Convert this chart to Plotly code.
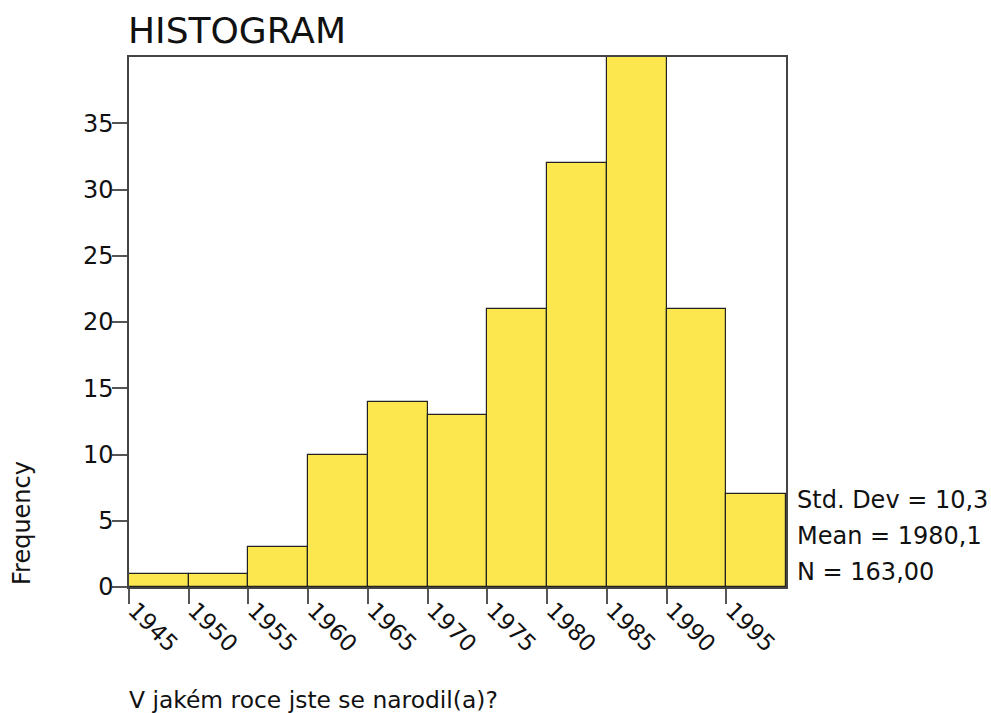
import plotly.graph_objects as go

bin_starts = [1945, 1950, 1955, 1960, 1965, 1970, 1975, 1980, 1985, 1990, 1995]
counts = [1, 1, 3, 10, 14, 13, 21, 32, 40, 21, 7]
bin_width = 5
tick_labels = ["1945", "1950", "1955", "1960", "1965", "1970", "1975", "1980", "1985", "1990", "1995"]
y_ticks = [0, 5, 10, 15, 20, 25, 30, 35]
stats_lines = ["Std. Dev = 10,3", "Mean = 1980,1", "N = 163,00"]
title_text = "HISTOGRAM"
x_title = "V jakém roce jste se narodil(a)?"
y_title = "Frequency"

FONT = "DejaVu Sans"
centers = [s + bin_width / 2 for s in bin_starts]

fig = go.Figure(go.Bar(
    x=centers, y=counts, width=bin_width,
    marker=dict(color="#FCE74F", line=dict(color="#222222", width=1.2)),
    hoverinfo="x+y",
))

fig.update_layout(
    width=991, height=713,
    margin=dict(l=129, r=205, t=57, b=126),
    paper_bgcolor="white", plot_bgcolor="white",
    font=dict(family=FONT, size=24, color="#111111"),
    showlegend=False,
    bargap=0,
)
fig.update_xaxes(
    range=[1945, 2000], tickvals=bin_starts, ticktext=tick_labels,
    tickangle=45, ticks="outside", ticklen=15, tickcolor="#555555", tickwidth=1.5,
    showline=True, linecolor="#444444", linewidth=1.5, mirror=True,
    showgrid=False, zeroline=False, tickfont=dict(size=23), automargin=False,
    ticklabelshift=6, ticklabelstandoff=-16,
)
fig.update_yaxes(
    range=[0, 40], tickvals=y_ticks, ticks="outside", ticklen=15,
    tickcolor="#555555", tickwidth=1.5,
    showline=True, linecolor="#444444", linewidth=1.5, mirror=True,
    showgrid=False, zeroline=False, tickfont=dict(size=24), automargin=False,
    ticklabelstandoff=-6,
)

annotations = [
    dict(text=title_text, xref="paper", yref="paper", x=0, xshift=-3, y=1, yshift=4,
         xanchor="left", yanchor="bottom", showarrow=False, font=dict(size=36)),
    dict(text=x_title, xref="paper", yref="paper", x=0, xshift=-2, y=0, yshift=-113,
         xanchor="left", yanchor="middle", showarrow=False, font=dict(size=23.4)),
    dict(text=y_title, xref="paper", yref="paper", x=0, xshift=-107, y=0, yshift=64,
         xanchor="center", yanchor="middle", textangle=-90, showarrow=False, font=dict(size=24)),
]
for i, line in enumerate(stats_lines):
    annotations.append(dict(text=line, xref="paper", yref="paper", x=1, xshift=9,
                            y=0, yshift=87 - i * 36, xanchor="left", yanchor="middle",
                            showarrow=False, font=dict(size=24)))
fig.update_layout(annotations=annotations)

fig.write_html("out.html", config={"displayModeBar": False},
               post_script="document.body.style.margin='0';document.body.style.overflow='hidden';")
